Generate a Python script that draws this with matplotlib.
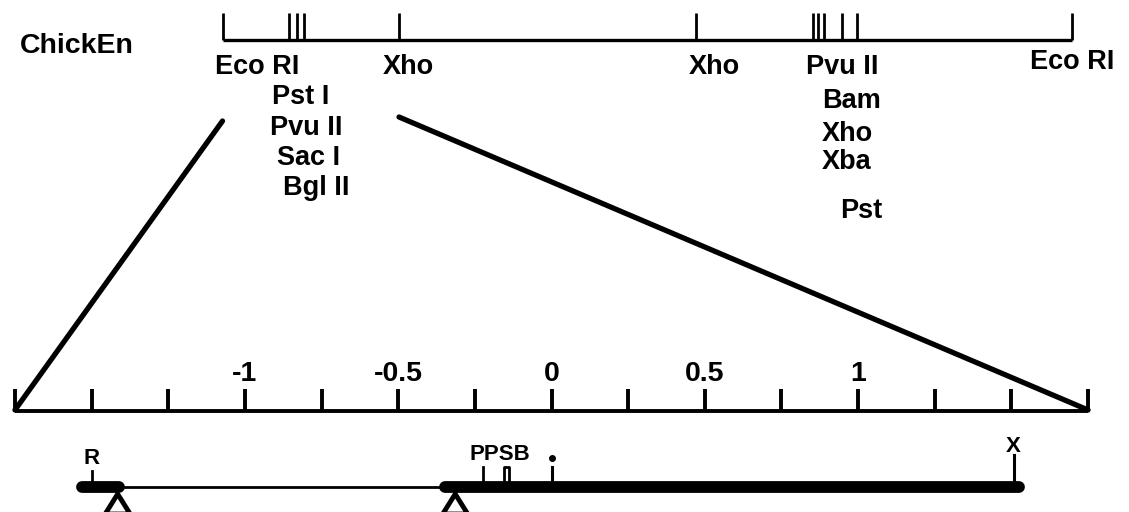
import matplotlib
matplotlib.use("Agg")
import matplotlib.pyplot as plt
import numpy as np
from matplotlib.patches import ConnectionPatch, Polygon

# ---------------- data ----------------
# top map (genomic EcoRI fragment), positions in kb from left EcoRI site
top_map_end = 16.85
top_tick_pos = [0.0, 1.32, 1.48, 1.62, 3.5, 9.39, 11.71, 11.81, 11.93, 12.29, 12.59, 16.85]
top_labels = ["Eco RI", "Pst I", "Pvu II", "Sac I", "Bgl II", "Xho",
              "Xho", "Pvu II", "Bam", "Xho", "Xba", "Pst", "Eco RI"]
top_label_x = [-0.15, 0.98, 0.94, 1.08, 1.20, 3.18,
               9.25, 11.57, 11.89, 11.89, 11.89, 12.24, 16.01]
top_label_y = [67, 97, 128, 158, 188, 67,
               67, 67, 101, 134, 162, 211, 62]
zoom_from = [0.0, 3.5]          # top-map interval that is expanded below

# bottom scale in kb
scale_min, scale_max = -1.75, 1.75
scale_ticks = np.arange(-1.75, 1.76, 0.25)
scale_labels = {-1.0: "-1", -0.5: "-0.5", 0.0: "0", 0.5: "0.5", 1.0: "1"}

# bottom restriction map (kb)
thick_segments = [(-1.53, -1.41), (-0.346, 1.526)]
thin_segment = (-1.41, -0.346)
triangle_pos = [-1.415, -0.314]
site_R = -1.50
site_P = -0.225
site_S = [-0.154, -0.140]
site_start = 0.0
site_X = 1.507

# ---------------- figure ----------------
W, H = 1129, 512
PX_PER_KB = 306.6
fig = plt.figure(figsize=(W / 100, H / 100), dpi=100)
plt.rcParams['font.family'] = ['Liberation Sans', 'DejaVu Sans']

ax_bot = fig.add_axes([0, 0, 1, 1])
ax_bot.set_xlim((0 - 551.5) / PX_PER_KB, (W - 551.5) / PX_PER_KB)
ax_bot.set_ylim(H, 0)
ax_bot.axis('off')

ax_top = fig.add_axes([0, 0, 1, 1])
ax_top.set_xlim((0 - 222.5) / 50.43, (W - 222.5) / 50.43)
ax_top.set_ylim(H, 0)
ax_top.axis('off')
ax_top.patch.set_alpha(0)

lw_line = 2.4
fs = 19.5

# ---- top map ----
ax_top.plot([0, top_map_end], [40, 40], color='black', lw=lw_line, solid_capstyle='butt')
for p in top_tick_pos:
    ax_top.plot([p, p], [40, 13], color='black', lw=2.0, solid_capstyle='butt')
for lab, x, y in zip(top_labels, top_label_x, top_label_y):
    ax_top.text(x, y, lab, ha='left', va='center', fontsize=fs, fontweight='bold')
ax_top.text(-4.412 + 20 / 50.43, 46, "ChickEn", ha='left', va='center', fontsize=20.5, fontweight='bold')

# ---- zoom lines ----
for xa, ya, xb in [(zoom_from[0], 121, scale_min), (zoom_from[1], 117, scale_max)]:
    con = ConnectionPatch(xyA=(xa, ya), coordsA=ax_top.transData,
                          xyB=(xb, 410), coordsB=ax_bot.transData,
                          color='black', lw=3.8, capstyle='round')
    fig.add_artist(con)

# ---- bottom scale ----
ax_bot.plot([scale_min, scale_max], [411, 411], color='black', lw=2.8, solid_capstyle='butt')
for t in scale_ticks:
    ax_bot.plot([t, t], [411, 389], color='black', lw=2.8, solid_capstyle='butt')
for t, lab in scale_labels.items():
    ax_bot.text(t, 374, lab, ha='center', va='center', fontsize=20.5, fontweight='bold')

# ---- bottom restriction map ----
ax_bot.plot(list(thin_segment), [487, 487], color='black', lw=2.0, solid_capstyle='butt')
for a, b in thick_segments:
    ax_bot.plot([a, b], [487, 487], color='black', lw=8.5, solid_capstyle='round')
half = 12.5 / PX_PER_KB
for tp in triangle_pos:
    tri = Polygon([(tp, 494), (tp - half, 514), (tp + half, 514)], closed=True,
                  facecolor='white', edgecolor='black', lw=3.5, joinstyle='miter', zorder=3)
    ax_bot.add_patch(tri)

fs_small = 16
ax_bot.plot([site_R, site_R], [484, 471], color='black', lw=2.0)
ax_bot.text(site_R, 458, "R", ha='center', va='center', fontsize=fs_small, fontweight='bold')

ax_bot.plot([site_P, site_P], [484, 467], color='black', lw=2.0)
ax_bot.plot([site_S[0], site_S[0], site_S[1], site_S[1]], [484, 467, 467, 484], color='black', lw=2.0)
ax_bot.text(-0.168, 454, "PPSB", ha='center', va='center', fontsize=fs_small, fontweight='bold')

ax_bot.plot([site_start, site_start], [484, 467], color='black', lw=2.2)
ax_bot.plot([site_start], [458], marker='o', markersize=4, color='black')

ax_bot.plot([site_X, site_X], [486, 455], color='black', lw=2.2)
ax_bot.text(site_X, 446, "X", ha='center', va='center', fontsize=fs_small, fontweight='bold')

fig.savefig("out.png", dpi=100, facecolor='white')
